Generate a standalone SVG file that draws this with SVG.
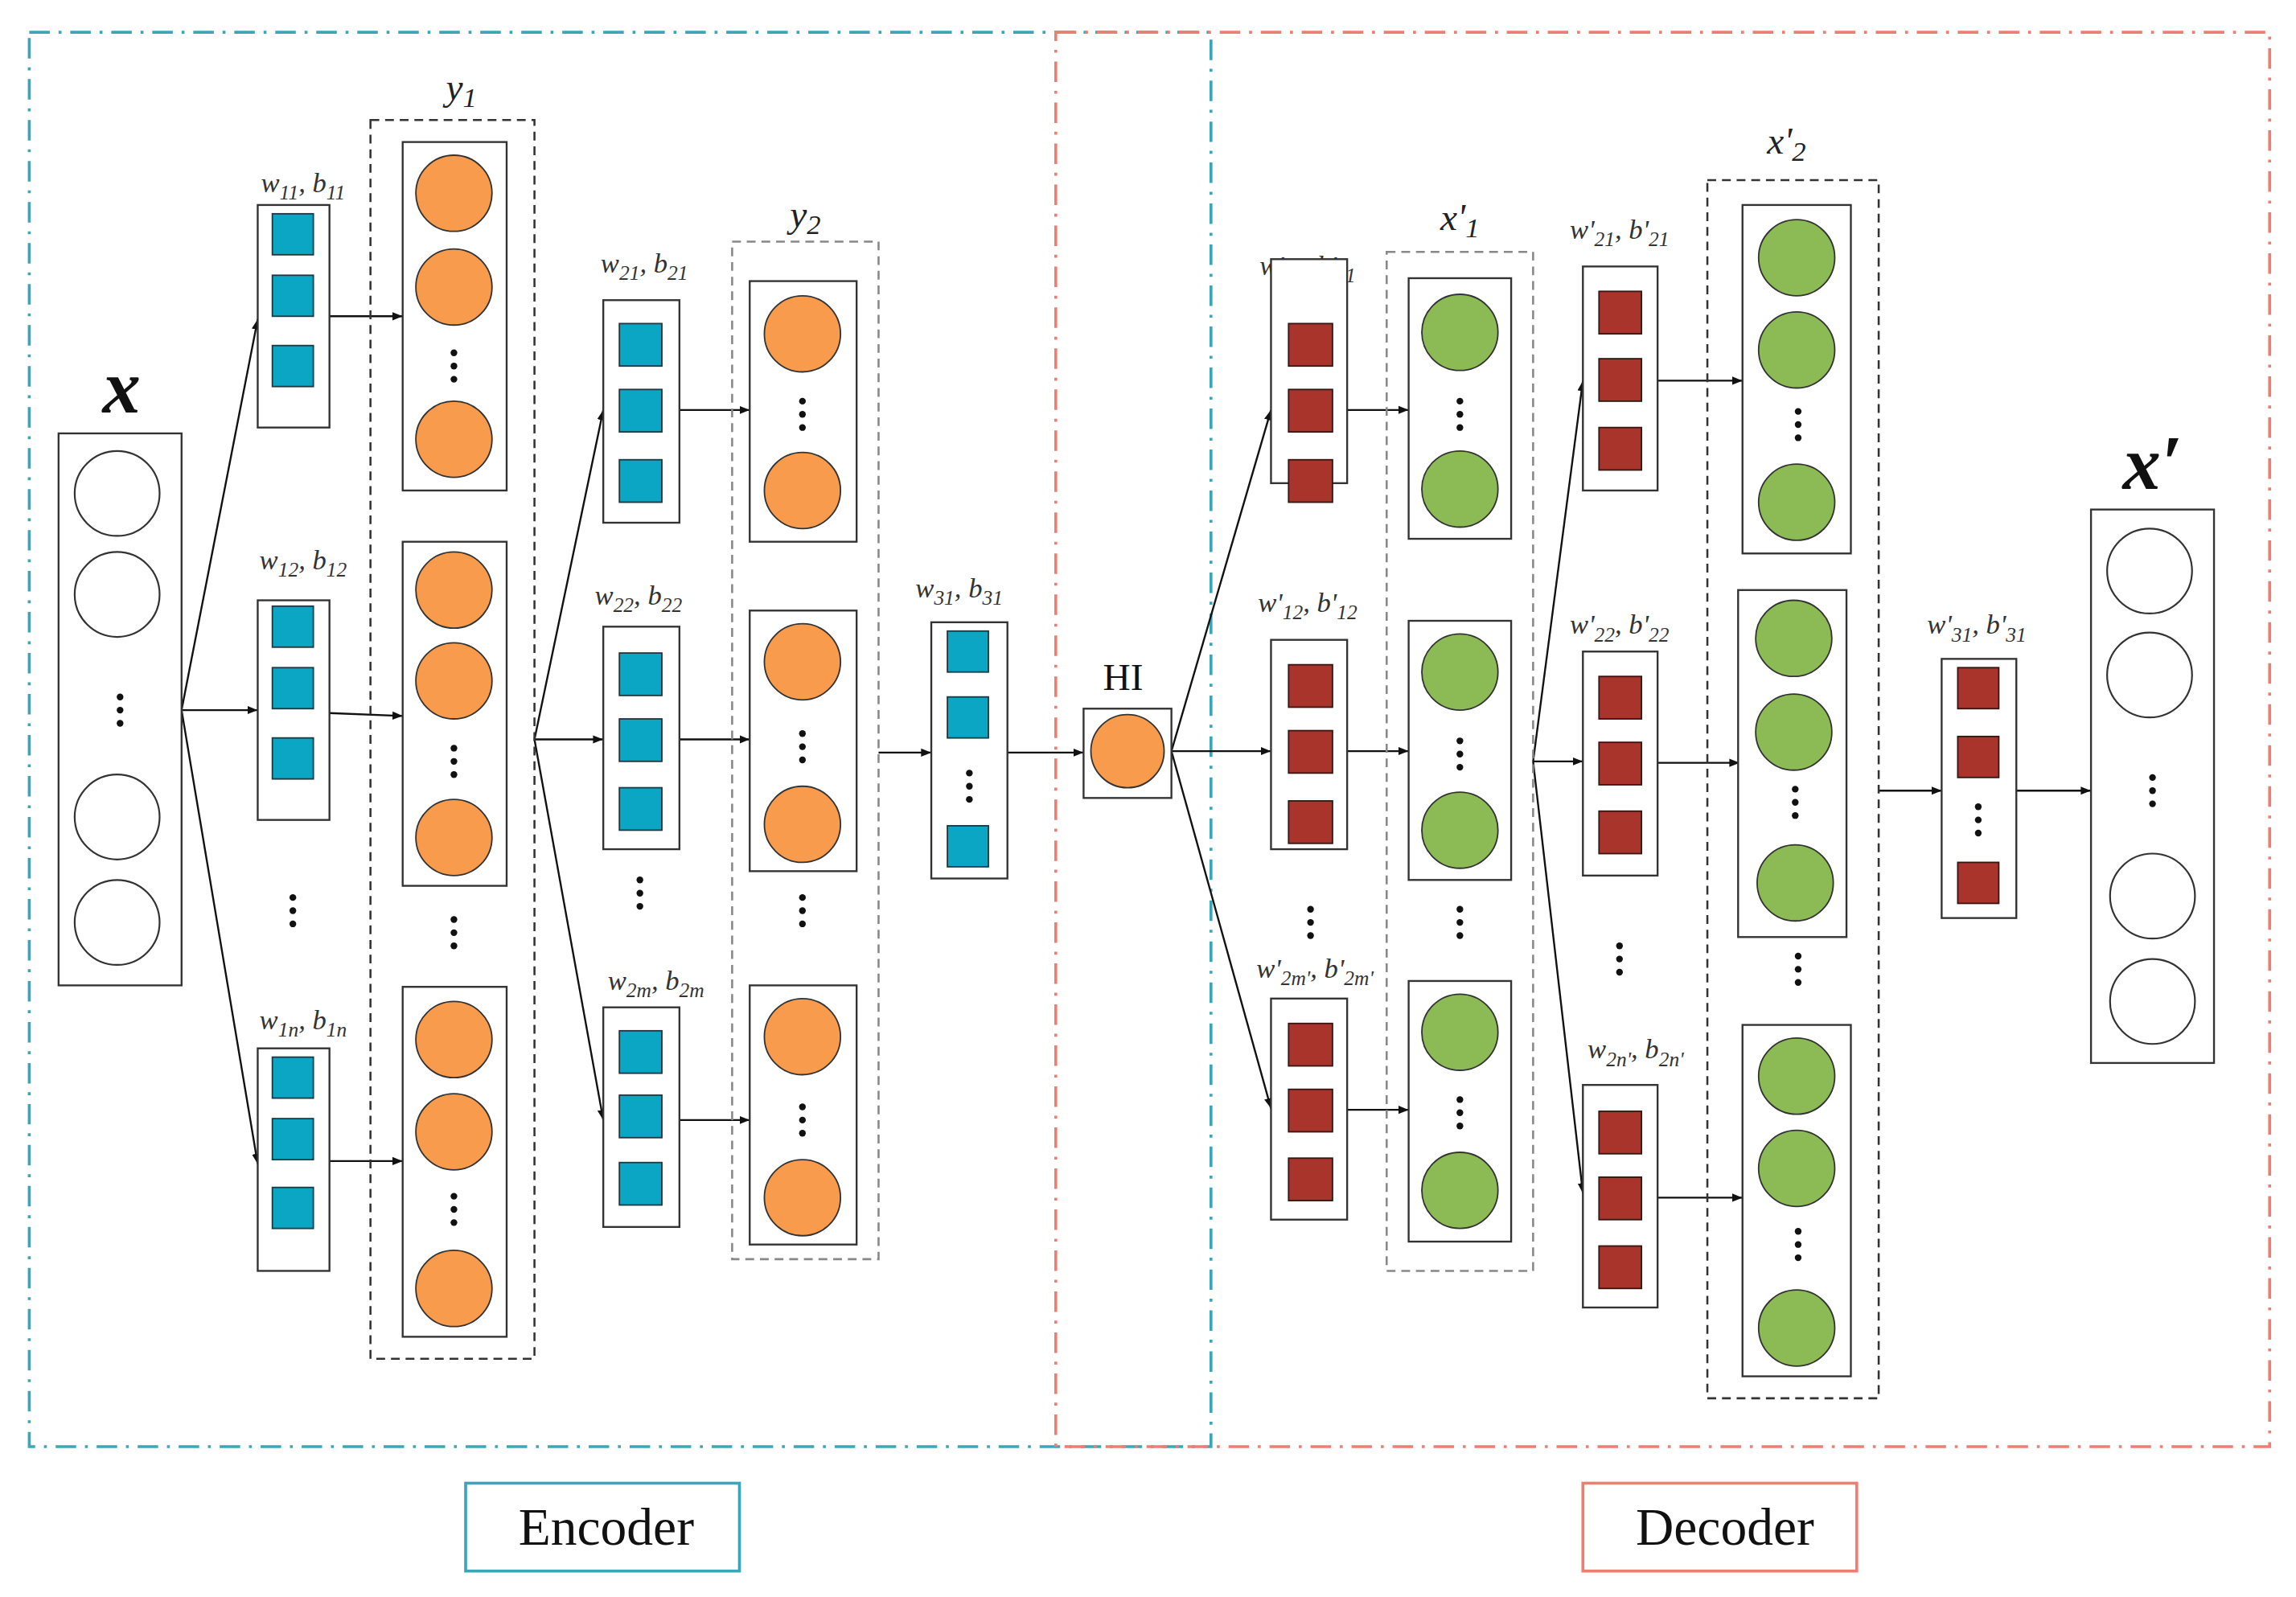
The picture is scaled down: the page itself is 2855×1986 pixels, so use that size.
<svg xmlns="http://www.w3.org/2000/svg" width="2855" height="1986" viewBox="0 0 2855 1986">
<defs>
<style>
.bx{fill:#fff;stroke:#333;stroke-width:1.3}
.dsh{fill:none;stroke:#333;stroke-width:1.4;stroke-dasharray:6 4}
.dshg{fill:none;stroke:#888;stroke-width:1.4;stroke-dasharray:6 4}
.tq{fill:#0BA6C4;stroke:#1a3a44;stroke-width:1}
.rd{fill:#A8342C;stroke:#3a1410;stroke-width:1}
.or{fill:#F89B4D;stroke:#333;stroke-width:1}
.gr{fill:#8CBB55;stroke:#333;stroke-width:1}
.wh{fill:#fff;stroke:#333;stroke-width:1.2}
.dt{fill:#111}
.ar{fill:none;stroke:#111;stroke-width:1.3;marker-end:url(#ah)}
.lb{font-family:"Liberation Serif",serif;font-style:italic;font-size:19px;fill:#333;text-anchor:middle}
.big{font-family:"Liberation Serif",serif;font-style:italic;font-weight:bold;font-size:52px;fill:#111;text-anchor:middle}
.ly{font-family:"Liberation Serif",serif;font-style:italic;font-size:26px;fill:#222;text-anchor:middle}
.cap{font-family:"Liberation Serif",serif;font-size:36px;fill:#111;text-anchor:middle}
</style>
<marker id="ah" viewBox="0 0 10 10" refX="10" refY="5" markerWidth="7" markerHeight="7" orient="auto" markerUnits="userSpaceOnUse"><path d="M0,1 L10,5 L0,9 z" fill="#111"/></marker>
<g id="v3"><circle cx="0" cy="-9" r="2.3"/><circle cx="0" cy="0" r="2.3"/><circle cx="0" cy="9" r="2.3"/></g>
</defs>
<rect width="2855" height="1986" fill="#fff"/>
<g transform="scale(1.8208)">
<g id="regions">
<rect x="20" y="22" width="807" height="966" fill="none" stroke="#3AA6B9" stroke-width="2" stroke-dasharray="14 6 2 6"/>
<rect x="721" y="22" width="829" height="966" fill="none" stroke="#EE7D72" stroke-width="2" stroke-dasharray="14 6 2 6"/>
<rect x="318" y="1013" width="187" height="60" fill="#fff" stroke="#3AA6B9" stroke-width="2"/>
<text class="cap" x="414" y="1055">Encoder</text>
<rect x="1081" y="1013" width="187" height="60" fill="#fff" stroke="#EE7D72" stroke-width="2"/>
<text class="cap" x="1178" y="1055">Decoder</text>
</g>
<g id="connectors">
<path class="ar" d="M124,485 L176,218"/><path class="ar" d="M124,485 L176,485"/><path class="ar" d="M124,485 L176,795"/>
<path class="ar" d="M225,216 L275,216"/><path class="ar" d="M225,487 L275,489"/><path class="ar" d="M225,793 L275,793"/>
<path class="ar" d="M365,505 L412,280"/><path class="ar" d="M365,505 L412,505"/><path class="ar" d="M365,505 L412,765"/>
<path class="ar" d="M464,280 L512,280"/><path class="ar" d="M464,505 L512,505"/><path class="ar" d="M464,765 L512,765"/>
<path class="ar" d="M600,514 L636,514"/><path class="ar" d="M688,514 L740,514"/>
<path class="ar" d="M800,513 L868,280"/><path class="ar" d="M800,513 L868,513"/><path class="ar" d="M800,513 L868,757"/>
<path class="ar" d="M920,280 L962,280"/><path class="ar" d="M920,513 L962,513"/><path class="ar" d="M920,758 L962,758"/>
<path class="ar" d="M1047,520 L1081,260"/><path class="ar" d="M1047,520 L1081,520"/><path class="ar" d="M1047,520 L1081,815"/>
<path class="ar" d="M1132,260 L1190,260"/><path class="ar" d="M1132,521 L1188,521"/><path class="ar" d="M1132,818 L1190,818"/>
<path class="ar" d="M1283,540 L1326,540"/><path class="ar" d="M1377,540 L1428,540"/>
</g>
<g id="x_in">
<text class="big" x="83" y="282">x</text>
<rect class="bx" x="40" y="296" width="84" height="377"/>
<circle class="wh" cx="80" cy="337" r="29"/><circle class="wh" cx="80" cy="406" r="29"/>
<use href="#v3" x="82" y="485" class="dt"/>
<circle class="wh" cx="80" cy="558" r="29"/><circle class="wh" cx="80" cy="630" r="29"/>
</g>
<g id="w1">
<text class="lb" x="207" y="131">w<tspan font-size="14" dy="5">11</tspan><tspan dy="-5">, b</tspan><tspan font-size="14" dy="5">11</tspan></text>
<rect class="bx" x="176" y="140" width="49" height="152"/>
<rect class="tq" x="186" y="146" width="28" height="28"/><rect class="tq" x="186" y="188" width="28" height="28"/><rect class="tq" x="186" y="236" width="28" height="28"/>
<text class="lb" x="207" y="389">w<tspan font-size="14" dy="5">12</tspan><tspan dy="-5">, b</tspan><tspan font-size="14" dy="5">12</tspan></text>
<rect class="bx" x="176" y="410" width="49" height="150"/>
<rect class="tq" x="186" y="414" width="28" height="28"/><rect class="tq" x="186" y="456" width="28" height="28"/><rect class="tq" x="186" y="504" width="28" height="28"/>
<use href="#v3" x="200" y="622" class="dt"/>
<text class="lb" x="207" y="703">w<tspan font-size="14" dy="5">1n</tspan><tspan dy="-5">, b</tspan><tspan font-size="14" dy="5">1n</tspan></text>
<rect class="bx" x="176" y="716" width="49" height="152"/>
<rect class="tq" x="186" y="722" width="28" height="28"/><rect class="tq" x="186" y="764" width="28" height="28"/><rect class="tq" x="186" y="811" width="28" height="28"/>
</g>
<g id="y1">
<text class="ly" x="315" y="68">y<tspan font-size="19" dy="5">1</tspan></text>
<rect class="dsh" x="253" y="82" width="112" height="846"/>
<rect class="bx" x="275" y="97" width="71" height="238"/>
<circle class="or" cx="310" cy="132" r="26"/><circle class="or" cx="310" cy="196" r="26"/><use href="#v3" x="310" y="250" class="dt"/><circle class="or" cx="310" cy="300" r="26"/>
<rect class="bx" x="275" y="370" width="71" height="235"/>
<circle class="or" cx="310" cy="403" r="26"/><circle class="or" cx="310" cy="465" r="26"/><use href="#v3" x="310" y="520" class="dt"/><circle class="or" cx="310" cy="572" r="26"/>
<use href="#v3" x="310" y="637" class="dt"/>
<rect class="bx" x="275" y="674" width="71" height="239"/>
<circle class="or" cx="310" cy="710" r="26"/><circle class="or" cx="310" cy="773" r="26"/><use href="#v3" x="310" y="826" class="dt"/><circle class="or" cx="310" cy="880" r="26"/>
</g>
<g id="w2">
<text class="lb" x="440" y="186">w<tspan font-size="14" dy="5">21</tspan><tspan dy="-5">, b</tspan><tspan font-size="14" dy="5">21</tspan></text>
<rect class="bx" x="412" y="205" width="52" height="152"/>
<rect class="tq" x="423" y="221" width="29" height="29"/><rect class="tq" x="423" y="266" width="29" height="29"/><rect class="tq" x="423" y="314" width="29" height="29"/>
<text class="lb" x="436" y="413">w<tspan font-size="14" dy="5">22</tspan><tspan dy="-5">, b</tspan><tspan font-size="14" dy="5">22</tspan></text>
<rect class="bx" x="412" y="428" width="52" height="152"/>
<rect class="tq" x="423" y="446" width="29" height="29"/><rect class="tq" x="423" y="491" width="29" height="29"/><rect class="tq" x="423" y="538" width="29" height="29"/>
<use href="#v3" x="437" y="610" class="dt"/>
<text class="lb" x="448" y="676">w<tspan font-size="14" dy="5">2m</tspan><tspan dy="-5">, b</tspan><tspan font-size="14" dy="5">2m</tspan></text>
<rect class="bx" x="412" y="688" width="52" height="150"/>
<rect class="tq" x="423" y="704" width="29" height="29"/><rect class="tq" x="423" y="748" width="29" height="29"/><rect class="tq" x="423" y="794" width="29" height="29"/>
</g>
<g id="y2">
<text class="ly" x="550" y="155">y<tspan font-size="19" dy="5">2</tspan></text>
<rect class="dshg" x="500" y="165" width="100" height="695"/>
<rect class="bx" x="512" y="192" width="73" height="178"/>
<circle class="or" cx="548" cy="228" r="26"/><use href="#v3" x="548" y="283" class="dt"/><circle class="or" cx="548" cy="335" r="26"/>
<rect class="bx" x="512" y="417" width="73" height="178"/>
<circle class="or" cx="548" cy="452" r="26"/><use href="#v3" x="548" y="510" class="dt"/><circle class="or" cx="548" cy="563" r="26"/>
<use href="#v3" x="548" y="622" class="dt"/>
<rect class="bx" x="512" y="673" width="73" height="177"/>
<circle class="or" cx="548" cy="708" r="26"/><use href="#v3" x="548" y="765" class="dt"/><circle class="or" cx="548" cy="818" r="26"/>
</g>
<g id="w3">
<text class="lb" x="655" y="408">w<tspan font-size="14" dy="5">31</tspan><tspan dy="-5">, b</tspan><tspan font-size="14" dy="5">31</tspan></text>
<rect class="bx" x="636" y="425" width="52" height="175"/>
<rect class="tq" x="647" y="431" width="28" height="28"/><rect class="tq" x="647" y="476" width="28" height="28"/><use href="#v3" x="662" y="537" class="dt"/><rect class="tq" x="647" y="564" width="28" height="28"/>
</g>
<g id="HI">
<text x="767" y="471" font-family="Liberation Serif,serif" font-size="26" fill="#111" text-anchor="middle">HI</text>
<rect class="bx" x="740" y="484" width="60" height="61"/>
<circle class="or" cx="770" cy="513" r="25"/>
</g>
<g id="wd1">
<text class="lb" x="893" y="188">w'<tspan font-size="14" dy="5">11</tspan><tspan dy="-5">, b'</tspan><tspan font-size="14" dy="5">11</tspan></text>
<rect class="bx" x="868" y="177" width="52" height="153"/>
<rect class="rd" x="880" y="221" width="30" height="29"/><rect class="rd" x="880" y="266" width="30" height="29"/><rect class="rd" x="880" y="314" width="30" height="29"/>
<text class="lb" x="893" y="418">w'<tspan font-size="14" dy="5">12</tspan><tspan dy="-5">, b'</tspan><tspan font-size="14" dy="5">12</tspan></text>
<rect class="bx" x="868" y="437" width="52" height="143"/>
<rect class="rd" x="880" y="454" width="30" height="29"/><rect class="rd" x="880" y="499" width="30" height="29"/><rect class="rd" x="880" y="547" width="30" height="29"/>
<use href="#v3" x="895" y="630" class="dt"/>
<text class="lb" x="898" y="668">w'<tspan font-size="14" dy="5">2m'</tspan><tspan dy="-5">, b'</tspan><tspan font-size="14" dy="5">2m'</tspan></text>
<rect class="bx" x="868" y="682" width="52" height="151"/>
<rect class="rd" x="880" y="699" width="30" height="29"/><rect class="rd" x="880" y="744" width="30" height="29"/><rect class="rd" x="880" y="791" width="30" height="29"/>
</g>
<g id="xp1">
<text class="ly" x="997" y="157">x'<tspan font-size="19" dy="5">1</tspan></text>
<rect class="dshg" x="947" y="172" width="100" height="696"/>
<rect class="bx" x="962" y="190" width="70" height="178"/>
<circle class="gr" cx="997" cy="227" r="26"/><use href="#v3" x="997" y="283" class="dt"/><circle class="gr" cx="997" cy="334" r="26"/>
<rect class="bx" x="962" y="424" width="70" height="177"/>
<circle class="gr" cx="997" cy="459" r="26"/><use href="#v3" x="997" y="515" class="dt"/><circle class="gr" cx="997" cy="567" r="26"/>
<use href="#v3" x="997" y="630" class="dt"/>
<rect class="bx" x="962" y="670" width="70" height="178"/>
<circle class="gr" cx="997" cy="705" r="26"/><use href="#v3" x="997" y="760" class="dt"/><circle class="gr" cx="997" cy="813" r="26"/>
</g>
<g id="wd2">
<text class="lb" x="1106" y="163">w'<tspan font-size="14" dy="5">21</tspan><tspan dy="-5">, b'</tspan><tspan font-size="14" dy="5">21</tspan></text>
<rect class="bx" x="1081" y="182" width="51" height="153"/>
<rect class="rd" x="1092" y="199" width="29" height="29"/><rect class="rd" x="1092" y="245" width="29" height="29"/><rect class="rd" x="1092" y="292" width="29" height="29"/>
<text class="lb" x="1106" y="433">w'<tspan font-size="14" dy="5">22</tspan><tspan dy="-5">, b'</tspan><tspan font-size="14" dy="5">22</tspan></text>
<rect class="bx" x="1081" y="445" width="51" height="153"/>
<rect class="rd" x="1092" y="462" width="29" height="29"/><rect class="rd" x="1092" y="507" width="29" height="29"/><rect class="rd" x="1092" y="554" width="29" height="29"/>
<use href="#v3" x="1106" y="655" class="dt"/>
<text class="lb" x="1117" y="723">w<tspan font-size="14" dy="5">2n'</tspan><tspan dy="-5">, b</tspan><tspan font-size="14" dy="5">2n'</tspan></text>
<rect class="bx" x="1081" y="741" width="51" height="152"/>
<rect class="rd" x="1092" y="759" width="29" height="29"/><rect class="rd" x="1092" y="804" width="29" height="29"/><rect class="rd" x="1092" y="851" width="29" height="29"/>
</g>
<g id="xp2">
<text class="ly" x="1220" y="105">x'<tspan font-size="19" dy="5">2</tspan></text>
<rect class="dsh" x="1166" y="123" width="117" height="832"/>
<rect class="bx" x="1190" y="140" width="74" height="238"/>
<circle class="gr" cx="1227" cy="176" r="26"/><circle class="gr" cx="1227" cy="239" r="26"/><use href="#v3" x="1228" y="290" class="dt"/><circle class="gr" cx="1227" cy="343" r="26"/>
<rect class="bx" x="1187" y="403" width="74" height="237"/>
<circle class="gr" cx="1225" cy="436" r="26"/><circle class="gr" cx="1225" cy="500" r="26"/><use href="#v3" x="1226" y="548" class="dt"/><circle class="gr" cx="1226" cy="603" r="26"/>
<use href="#v3" x="1228" y="662" class="dt"/>
<rect class="bx" x="1190" y="700" width="74" height="240"/>
<circle class="gr" cx="1227" cy="735" r="26"/><circle class="gr" cx="1227" cy="798" r="26"/><use href="#v3" x="1228" y="850" class="dt"/><circle class="gr" cx="1227" cy="907" r="26"/>
</g>
<g id="wd3">
<text class="lb" x="1350" y="433">w'<tspan font-size="14" dy="5">31</tspan><tspan dy="-5">, b'</tspan><tspan font-size="14" dy="5">31</tspan></text>
<rect class="bx" x="1326" y="450" width="51" height="177"/>
<rect class="rd" x="1337" y="456" width="28" height="28"/><rect class="rd" x="1337" y="503" width="28" height="28"/><use href="#v3" x="1351" y="560" class="dt"/><rect class="rd" x="1337" y="589" width="28" height="28"/>
</g>
<g id="x_out">
<text class="big" x="1470" y="334">x′</text>
<rect class="bx" x="1428" y="348" width="84" height="378"/>
<circle class="wh" cx="1468" cy="390" r="29"/><circle class="wh" cx="1468" cy="461" r="29"/>
<use href="#v3" x="1470" y="540" class="dt"/>
<circle class="wh" cx="1470" cy="612" r="29"/><circle class="wh" cx="1470" cy="684" r="29"/>
</g>
</g>
</svg>
